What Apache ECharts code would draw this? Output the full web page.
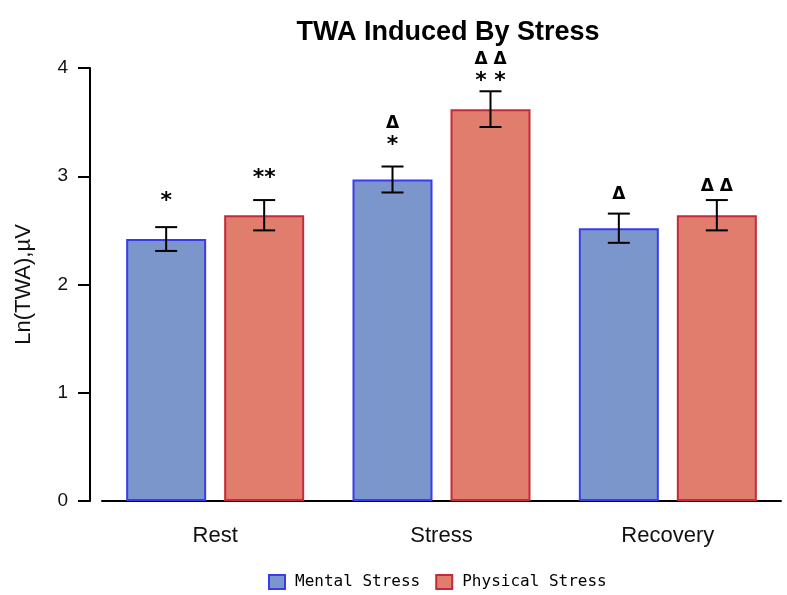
<!DOCTYPE html>
<html>
<head>
<meta charset="utf-8">
<script src="https://cdn.jsdelivr.net/npm/echarts@6/dist/echarts.min.js"></script>
<style>
  html, body { margin: 0; padding: 0; background: #fff; }
  #main { width: 787px; height: 595px; }
</style>
</head>
<body>
<div id="main"></div>
<script>
// data
var categories = ['Rest', 'Stress', 'Recovery'];
var mentalMean = [2.42, 2.97, 2.52];
var mentalErr = [0.11, 0.12, 0.135];
var physicalMean = [2.64, 3.62, 2.64];
var physicalErr = [0.14, 0.165, 0.14];
// significance marks (top line first)
var mentalNotes = [['*'], ['\u0394', '*'], ['\u0394']];
var physicalNotes = [['**'], ['\u0394 \u0394', '* *'], ['\u0394 \u0394']];
// value level of the lowest note line
var mentalNoteLevel = [2.82, 3.34, 2.83];
var physicalNoteLevel = [3.04, 3.93, 2.90];
var yTicks = [0, 1, 2, 3, 4];

var mentalColor = '#7b96cb', mentalBorder = '#3a3aee';
var physColor = '#e07d6d', physBorder = '#c62a3a';
var barW = 80, barGap = 18;
var shift = (barW + barGap) / 2;

function errData(mean, err, notes, level) {
  return mean.map(function (m, i) {
    return [i, m - err[i], m + err[i], level[i], notes[i].join('|')];
  });
}

function errRender(dx) {
  return function (params, api) {
    var lo = api.coord([api.value(0), api.value(1)]);
    var hi = api.coord([api.value(0), api.value(2)]);
    var base = api.coord([api.value(0), api.value(3)]);
    var x = lo[0] + dx;
    var st = { stroke: '#000', lineWidth: 2 };
    var kids = [
      { type: 'line', shape: { x1: x, y1: lo[1], x2: x, y2: hi[1] }, style: st },
      { type: 'line', shape: { x1: x - 11, y1: lo[1], x2: x + 11, y2: lo[1] }, style: st },
      { type: 'line', shape: { x1: x - 11, y1: hi[1], x2: x + 11, y2: hi[1] }, style: st }
    ];
    var lines = String(api.value(4)).split('|');
    var n = lines.length;
    lines.forEach(function (t, k) {
      var isStar = t.indexOf('*') >= 0;
      var y = base[1] - (n - 1 - k) * 16;
      kids.push({
        type: 'text',
        style: {
          text: t, x: x, y: isStar ? y + 6 : y,
          align: 'center', verticalAlign: 'middle',
          font: isStar ? 'bold 22px "DejaVu Sans"' : 'bold 17px "DejaVu Sans"',
          fill: '#000'
        }
      });
    });
    return { type: 'group', children: kids };
  };
}

var chart = echarts.init(document.getElementById('main'));
var option = {
  animation: false,
  title: {
    text: 'TWA Induced By Stress',
    left: 443, top: 14, textAlign: 'center',
    textStyle: { fontFamily: 'Liberation Sans', fontWeight: 'bold', fontSize: 27, color: '#000' }
  },
  legend: {
    top: 574, left: 268, padding: 0,
    itemWidth: 16, itemHeight: 14, itemGap: 15,
    icon: 'rect',
    data: ['Mental Stress', 'Physical Stress'],
    textStyle: { fontFamily: 'DejaVu Sans Mono', fontSize: 16, color: '#000', padding: [0, 0, 0, 5] }
  },
  grid: { left: 102, right: 6, top: 68, bottom: 94, containLabel: false },
  xAxis: {
    type: 'category',
    data: categories,
    axisLine: { lineStyle: { color: '#000', width: 2 } },
    axisTick: { alignWithLabel: true, length: 10, lineStyle: { color: '#000', width: 2 } },
    axisLabel: { color: '#111', fontFamily: 'Liberation Sans', fontSize: 22, margin: 24 }
  },
  yAxis: {
    type: 'value',
    min: 0, max: 4, interval: 1,
    offset: 12,
    name: 'Ln(TWA),\u00b5V',
    nameLocation: 'middle', nameGap: 55,
    nameTextStyle: { color: '#111', fontFamily: 'Liberation Sans', fontSize: 22 },
    axisLine: { show: true, lineStyle: { color: '#000', width: 2 } },
    axisTick: { show: true, length: 12, lineStyle: { color: '#000', width: 2 } },
    axisLabel: {
      color: '#111', fontFamily: 'Liberation Sans', fontSize: 19, margin: 22,
      formatter: function (v) { return yTicks.indexOf(v) >= 0 ? String(v) : ''; }
    },
    splitLine: { show: false }
  },
  series: [
    {
      name: 'Mental Stress', type: 'bar', data: mentalMean,
      barWidth: barW, barGap: (barGap / barW * 100) + '%',
      itemStyle: { color: mentalColor, borderColor: mentalBorder, borderWidth: 2 }
    },
    {
      name: 'Physical Stress', type: 'bar', data: physicalMean,
      barWidth: barW,
      itemStyle: { color: physColor, borderColor: physBorder, borderWidth: 2 }
    },
    {
      type: 'custom', renderItem: errRender(-shift),
      data: errData(mentalMean, mentalErr, mentalNotes, mentalNoteLevel), z: 5
    },
    {
      type: 'custom', renderItem: errRender(shift),
      data: errData(physicalMean, physicalErr, physicalNotes, physicalNoteLevel), z: 5
    }
  ]
};
chart.setOption(option);
</script>
</body>
</html>
